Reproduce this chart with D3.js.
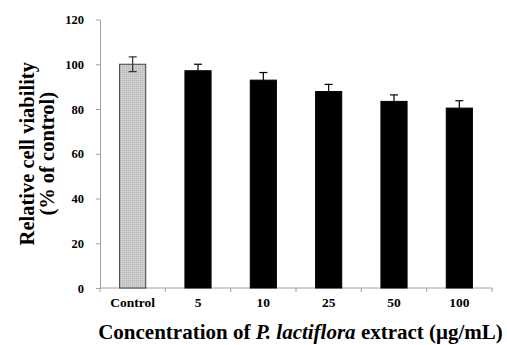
<!DOCTYPE html>
<html>
<head>
<meta charset="utf-8">
<script src="https://cdn.jsdelivr.net/npm/d3@7"></script>
<style>
  body { margin: 0; background: #fff; }
  text { font-family: "Liberation Serif", "Times New Roman", serif; font-weight: bold; fill: #000; }
  .axis path, .axis line { stroke: #a0a0a0; }
</style>
</head>
<body>
<svg width="507" height="345"></svg>
<script>
const categories = ['Control', '5', '10', '25', '50', '100'];
const viability = [100, 97.1, 92.9, 87.8, 83.4, 80.4];
const errors = [3.3, 2.9, 3.4, 3.2, 2.9, 3.3];
const yTicks = [0, 20, 40, 60, 80, 100, 120];

const svg = d3.select('svg');
const mLeft = 100, mRight = 492, mTop = 19.5, mBottom = 288;

const x = d3.scaleBand().domain(categories).range([mLeft, mRight]).paddingInner(0.6).paddingOuter(0.3);
const y = d3.scaleLinear().domain([0, 120]).range([mBottom, mTop]);

// y axis
const yAxis = svg.append('g')
  .attr('class', 'axis')
  .attr('transform', `translate(${mLeft},0)`)
  .call(d3.axisLeft(y).tickValues(yTicks).tickSize(4).tickSizeOuter(0));
yAxis.selectAll('text').attr('font-size', 12.5).attr('x', -16);

// x axis, ticks at category boundaries
const xAxis = svg.append('g').attr('class', 'axis');
xAxis.append('line')
  .attr('x1', mLeft).attr('x2', mRight)
  .attr('y1', mBottom).attr('y2', mBottom);
xAxis.selectAll('.tk')
  .data(d3.range(categories.length + 1))
  .enter().append('line')
  .attr('x1', i => mLeft + i * (mRight - mLeft) / categories.length)
  .attr('x2', i => mLeft + i * (mRight - mLeft) / categories.length)
  .attr('y1', mBottom).attr('y2', mBottom + 4);
xAxis.selectAll('text')
  .data(categories)
  .enter().append('text')
  .attr('x', d => x(d) + x.bandwidth() / 2)
  .attr('y', mBottom + 19)
  .attr('text-anchor', 'middle')
  .attr('font-size', 13.5)
  .text(d => d);

// pattern for control bar
const defs = svg.append('defs');
const pat = defs.append('pattern')
  .attr('id', 'dots').attr('width', 2).attr('height', 2)
  .attr('patternUnits', 'userSpaceOnUse');
pat.append('rect').attr('width', 2).attr('height', 2).attr('fill', '#cdcdcd');
pat.append('rect').attr('width', 1).attr('height', 1).attr('fill', '#b8b8b8');

// bars
svg.selectAll('.bar')
  .data(categories)
  .enter().append('rect')
  .attr('class', 'bar')
  .attr('x', d => x(d))
  .attr('y', (d, i) => y(viability[i]))
  .attr('width', x.bandwidth())
  .attr('height', (d, i) => mBottom - y(viability[i]))
  .attr('fill', (d, i) => i === 0 ? 'url(#dots)' : '#000')
  .attr('stroke', (d, i) => i === 0 ? '#404040' : '#000')
  .attr('stroke-width', 1);

// error bars
const eb = svg.selectAll('.err')
  .data(categories)
  .enter().append('g')
  .attr('stroke', (d, i) => i === 0 ? '#303030' : '#000')
  .attr('stroke-width', 1.2);
eb.append('line')
  .attr('x1', d => x(d) + x.bandwidth() / 2)
  .attr('x2', d => x(d) + x.bandwidth() / 2)
  .attr('y1', (d, i) => y(viability[i] - errors[i]))
  .attr('y2', (d, i) => y(viability[i] + errors[i]));
eb.append('line')
  .attr('x1', d => x(d) + x.bandwidth() / 2 - 4)
  .attr('x2', d => x(d) + x.bandwidth() / 2 + 4)
  .attr('y1', (d, i) => y(viability[i] + errors[i]))
  .attr('y2', (d, i) => y(viability[i] + errors[i]));
eb.append('line')
  .attr('x1', d => x(d) + x.bandwidth() / 2 - 4)
  .attr('x2', d => x(d) + x.bandwidth() / 2 + 4)
  .attr('y1', (d, i) => y(viability[i] - errors[i]))
  .attr('y2', (d, i) => y(viability[i] - errors[i]))
  .attr('display', (d, i) => i === 0 ? null : 'none');

// axis titles
const yMid = (mTop + mBottom) / 2;
const yTitle = svg.append('text')
  .attr('transform', `translate(33.5,${yMid}) rotate(-90)`)
  .attr('text-anchor', 'middle')
  .attr('font-size', 20.5);
yTitle.append('tspan').attr('x', 0).attr('dy', 0).text('Relative cell viability');
yTitle.append('tspan').attr('x', 0).attr('dy', 20).text('(% of control)');

const xTitle = svg.append('text')
  .attr('x', 300.5)
  .attr('y', 339)
  .attr('text-anchor', 'middle')
  .attr('font-size', 21);
xTitle.append('tspan').text('Concentration of ');
xTitle.append('tspan').attr('font-style', 'italic').text('P. lactiflora');
xTitle.append('tspan').text(' extract (μg/mL)');
</script>
</body>
</html>
